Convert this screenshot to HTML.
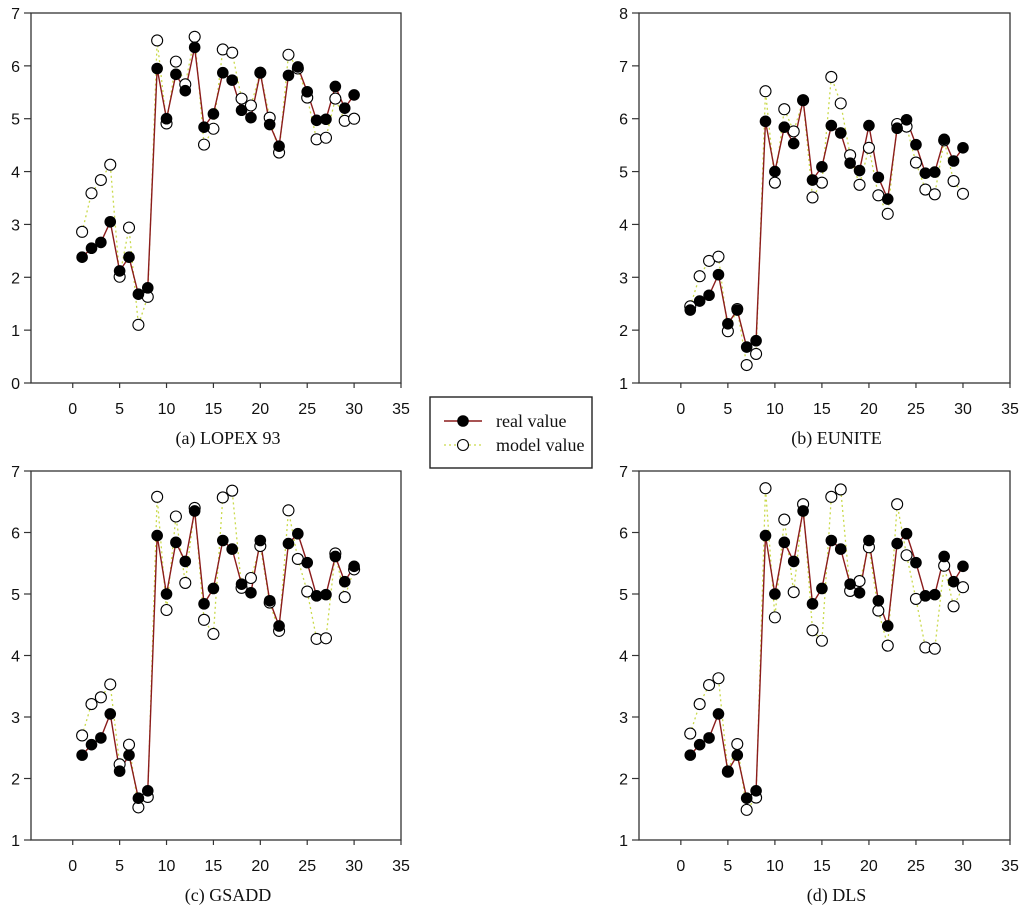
<!DOCTYPE html>
<html><head><meta charset="utf-8"><style>
html,body{margin:0;padding:0;background:#fff;}
svg{display:block;}
.tk{font-family:"Liberation Sans",Arial,sans-serif;font-size:16px;fill:#111;}
.tt{font-family:"Liberation Serif",serif;font-size:18px;fill:#111;}
</style></head><body>
<svg id="c" width="1024" height="906" viewBox="0 0 1024 906" xmlns="http://www.w3.org/2000/svg"></svg>
<script>
const xs = [1,2,3,4,5,6,7,8,9,10,11,12,13,14,15,16,17,18,19,20,21,22,23,24,25,26,27,28,29,30];
const realValues = [2.38,2.55,2.66,3.05,2.12,2.38,1.68,1.80,5.95,5.00,5.84,5.53,6.35,4.84,5.09,5.87,5.73,5.16,5.02,5.87,4.89,4.48,5.82,5.98,5.51,4.97,4.99,5.61,5.20,5.45];
const modelLopex = [2.86,3.59,3.84,4.13,2.01,2.94,1.10,1.63,6.48,4.91,6.08,5.65,6.55,4.51,4.81,6.31,6.25,5.38,5.25,5.87,5.02,4.36,6.21,5.95,5.40,4.61,4.64,5.38,4.96,5.00];
const modelEunite = [2.45,3.02,3.31,3.39,1.98,2.40,1.34,1.55,6.52,4.79,6.18,5.76,6.35,4.51,4.79,6.79,6.29,5.31,4.75,5.45,4.55,4.20,5.90,5.85,5.17,4.66,4.57,5.59,4.82,4.58];
const modelGsadd = [2.70,3.21,3.32,3.53,2.23,2.55,1.53,1.70,6.58,4.74,6.26,5.18,6.40,4.58,4.35,6.57,6.68,5.10,5.26,5.78,4.86,4.40,6.36,5.57,5.04,4.27,4.28,5.66,4.95,5.40];
const modelDls = [2.73,3.21,3.52,3.63,2.11,2.56,1.49,1.69,6.72,4.62,6.21,5.03,6.46,4.41,4.24,6.58,6.70,5.05,5.21,5.76,4.73,4.16,6.46,5.63,4.92,4.13,4.11,5.46,4.80,5.11];
const xTicks = [0,5,10,15,20,25,30,35];
const yTicksA = [0,1,2,3,4,5,6,7];
const yTicksB = [1,2,3,4,5,6,7,8];
const yTicksC = [1,2,3,4,5,6,7];
const titles = ["(a) LOPEX 93","(b) EUNITE","(c) GSADD","(d) DLS"];

const NS="http://www.w3.org/2000/svg";
const svg=document.getElementById('c');
function mk(t,a,p){const e=document.createElementNS(NS,t);for(const k in a)e.setAttribute(k,a[k]);(p||svg).appendChild(e);return e;}

function panel(id,L,R,T,B,yT,model,title){
  const g=mk('g',{});
  
  
  const x0=L+(R-L)*4.45/39.45;
  const sx=v=>x0+(R-x0)*v/35;
  const ymin=yT[0],ymax=yT[yT.length-1];
  const sy=v=>B-(B-T)*(v-ymin)/(ymax-ymin);
  const fr=mk('rect',{x:L,y:T,width:R-L,height:B-T,fill:'none',stroke:'#333','stroke-width':1.3},g);
  
  
  yT.forEach(v=>{
    mk('line',{x1:L-7,x2:L,y1:sy(v),y2:sy(v),stroke:'#333','stroke-width':1.2},g);
    const t=mk('text',{x:L-11,y:sy(v)+6,'text-anchor':'end',class:'tk'},g);t.textContent=v;
    
    
  });
  xTicks.forEach(v=>{
    mk('line',{x1:sx(v),x2:sx(v),y1:B,y2:B+5,stroke:'#333','stroke-width':1.2},g);
    const t=mk('text',{x:sx(v),y:B+31,'text-anchor':'middle',class:'tk'},g);t.textContent=v;
    
    
  });
  const mp=xs.map((x,i)=>sx(x)+','+sy(model[i])).join(' ');
  const ml=mk('polyline',{points:mp,fill:'none',stroke:'#c9d94a','stroke-width':1.3,'stroke-dasharray':'2,3'},g);
  
  
  const rp=xs.map((x,i)=>sx(x)+','+sy(realValues[i])).join(' ');
  const rl=mk('polyline',{points:rp,fill:'none',stroke:'#8b1c1c','stroke-width':1.4},g);
  
  
  xs.forEach((x,i)=>{
    const c=mk('circle',{cx:sx(x),cy:sy(model[i]),r:5.5,fill:'#fff',stroke:'#000','stroke-width':1.1},g);
    
    
  });
  xs.forEach((x,i)=>{
    const c=mk('circle',{cx:sx(x),cy:sy(realValues[i]),r:5.8,fill:'#000'},g);
    
    
  });
  const tt=mk('text',{x:(L+R)/2+12,y:B+61,'text-anchor':'middle',class:'tt'},g);tt.textContent=title;
  
  
}
panel('a',31,401,13,383,yTicksA,modelLopex,titles[0]);
panel('b',639,1010,13,383,yTicksB,modelEunite,titles[1]);
panel('c',31,401,471,840,yTicksC,modelGsadd,titles[2]);
panel('d',639,1010,471,840,yTicksC,modelDls,titles[3]);

const lg=mk('g',{});


mk('rect',{x:430,y:397,width:162,height:71,fill:'#fff',stroke:'#222','stroke-width':1.4},lg);
mk('line',{x1:444,x2:482,y1:421,y2:421,stroke:'#8b1c1c','stroke-width':1.4},lg);
mk('circle',{cx:463,cy:421,r:5.8,fill:'#000'},lg);
const l1=mk('text',{x:496,y:427,class:'tt'},lg);l1.textContent='real value';


mk('line',{x1:444,x2:482,y1:445,y2:445,stroke:'#c9d94a','stroke-width':1.3,'stroke-dasharray':'2,3'},lg);
mk('circle',{cx:463,cy:445,r:5.5,fill:'#fff',stroke:'#000','stroke-width':1.1},lg);
const l2=mk('text',{x:496,y:451,class:'tt'},lg);l2.textContent='model value';


</script>
</body></html>
